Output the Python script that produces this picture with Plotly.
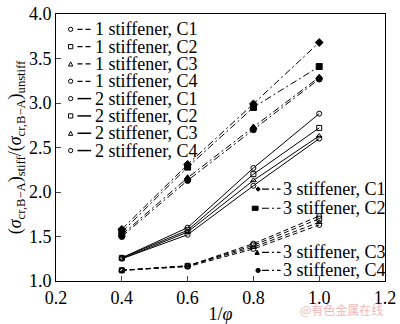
import plotly.graph_objects as go

x = [0.4, 0.6, 0.8, 1.0]

one_c1 = [1.12, 1.17, 1.42, 1.73]
one_c2 = [1.12, 1.17, 1.40, 1.70]
one_c3 = [1.12, 1.17, 1.38, 1.66]
one_c4 = [1.12, 1.16, 1.36, 1.63]

two_c1 = [1.26, 1.60, 2.27, 2.88]
two_c2 = [1.26, 1.57, 2.20, 2.72]
two_c3 = [1.25, 1.55, 2.13, 2.63]
two_c4 = [1.25, 1.52, 2.07, 2.60]

three_c1 = [1.58, 2.31, 2.99, 3.68]
three_c2 = [1.55, 2.28, 2.95, 3.41]
three_c3 = [1.52, 2.16, 2.73, 3.29]
three_c4 = [1.50, 2.13, 2.70, 3.27]

xticks = [0.2, 0.4, 0.6, 0.8, 1.0, 1.2]
yticks = [1.0, 1.5, 2.0, 2.5, 3.0, 3.5, 4.0]

FONT = "Liberation Serif"
FS = 18
DASH = "5px,3px"
DASHDOT = "7px,3px,2px,3px"

# plot area in pixels (for legend placement only)
L, R, T, B = 56, 393, 4, 283
def px(v):
    return (v - L) / (R - L)
def py(v):
    return (B - v) / (B - T)

fig = go.Figure()

series = []
open_syms = ["circle-open", "square-open", "triangle-up-open", "circle-open"]
for i, y in enumerate([one_c1, one_c2, one_c3, one_c4]):
    series.append((y, f"1 stiffener, C{i+1}", DASH, open_syms[i], 5))
for i, y in enumerate([two_c1, two_c2, two_c3, two_c4]):
    series.append((y, f"2 stiffener, C{i+1}", "solid", open_syms[i], 5))
filled = ["diamond", "square", "triangle-up", "circle"]
for i, y in enumerate([three_c1, three_c2, three_c3, three_c4]):
    series.append((y, f"3 stiffener, C{i+1}", DASHDOT, filled[i], 6))

for y, name, dash, sym, size in series:
    fig.add_trace(go.Scatter(
        x=x, y=y, name=name, mode="lines+markers", showlegend=False,
        line=dict(color="black", width=1, dash=dash),
        marker=dict(symbol=sym, size=size, color="black",
                    line=dict(color="black", width=1))))

# manual legend (compact rows like the reference)
def marker_shape(cx, cy, sym):
    r = 2.2
    filled_ = not sym.endswith("open")
    fill = "black" if filled_ else "white"
    base = sym.replace("-open", "")
    if base == "circle":
        fig.add_shape(type="circle", xref="paper", yref="paper",
                      x0=px(cx - r), x1=px(cx + r), y0=py(cy + r), y1=py(cy - r),
                      line=dict(color="black", width=1), fillcolor=fill)
    elif base == "square":
        rr = r + (0.8 if filled_ else 0)
        fig.add_shape(type="rect", xref="paper", yref="paper",
                      x0=px(cx - rr), x1=px(cx + rr), y0=py(cy + r), y1=py(cy - r),
                      line=dict(color="black", width=1), fillcolor=fill)
    else:
        if base == "triangle-up":
            pts = [(cx - r, cy + r), (cx + r, cy + r), (cx, cy - r)]
        else:
            pts = [(cx - r, cy), (cx, cy - r), (cx + r, cy), (cx, cy + r)]
        path = "M " + " L ".join(f"{px(a):.5f},{py(b):.5f}" for a, b in pts) + " Z"
        fig.add_shape(type="path", xref="paper", yref="paper", path=path,
                      line=dict(color="black", width=1), fillcolor=fill)

def legend_row(name, dash, sym, mx, lx0, lx1, tx, yc):
    marker_shape(mx, yc, sym)
    fig.add_shape(type="line", xref="paper", yref="paper",
                  x0=px(lx0), x1=px(lx1), y0=py(yc), y1=py(yc),
                  line=dict(color="black", width=1.5 if dash == "solid" else 1.2,
                            dash=dash if dash != "solid" else None))
    fig.add_annotation(text=name, xref="paper", yref="paper", x=px(tx), y=py(yc),
                       xanchor="left", yanchor="middle", showarrow=False,
                       font=dict(family=FONT, size=FS, color="black"))

left_rows = series[:8]
for k, (y, name, dash, sym, size) in enumerate(left_rows):
    legend_row(name, dash, sym, 71, 78, 92, 94, 20 + k * 18.1)

right_y = [187, 207, 253, 272]
right_mx = [263, 260, 262, 263]
for k, (y, name, dash, sym, size) in enumerate(series[8:]):
    legend_row(name, dash, sym, right_mx[k], 267, 286, 286, right_y[k])

fig.update_layout(
    width=400, height=324,
    margin=dict(l=L, r=400 - R, t=T, b=324 - B),
    paper_bgcolor="white", plot_bgcolor="white",
    font=dict(family=FONT, size=FS, color="black"),
    showlegend=False,
    xaxis=dict(range=[0.2, 1.2], tickvals=xticks, ticktext=[f"{v:.1f}" for v in xticks],
               ticks="inside", ticklen=5, showline=True, linecolor="black", linewidth=1,
               mirror=True, showgrid=False, zeroline=False, ticklabeloverflow="allow",
               tickfont=dict(family=FONT, size=FS),
               title=dict(text="1/<i>φ</i>", standoff=0, font=dict(family=FONT, size=FS))),
    yaxis=dict(range=[1.0, 4.0], tickvals=yticks, ticktext=[f"{v:.1f}" for v in yticks],
               ticks="inside", ticklen=5, showline=True, linecolor="black", linewidth=1,
               mirror=True, showgrid=False, zeroline=False, ticklabeloverflow="allow",
               tickfont=dict(family=FONT, size=FS),
               title=dict(text="(<i>σ</i><sub>cr,B−A</sub>)<sub>stiff</sub>/(<i>σ</i><sub>cr,B−A</sub>)<sub>unstiff</sub>",
                          standoff=2, font=dict(family=FONT, size=FS))),
)
fig.add_annotation(text="@有色金属在线", xref="paper", yref="paper", x=1.0, y=py(313),
                   xanchor="right", yanchor="middle", showarrow=False,
                   font=dict(family="Noto Sans CJK SC", size=12, color="#f0b8b8"))
fig.write_html("out.html")
